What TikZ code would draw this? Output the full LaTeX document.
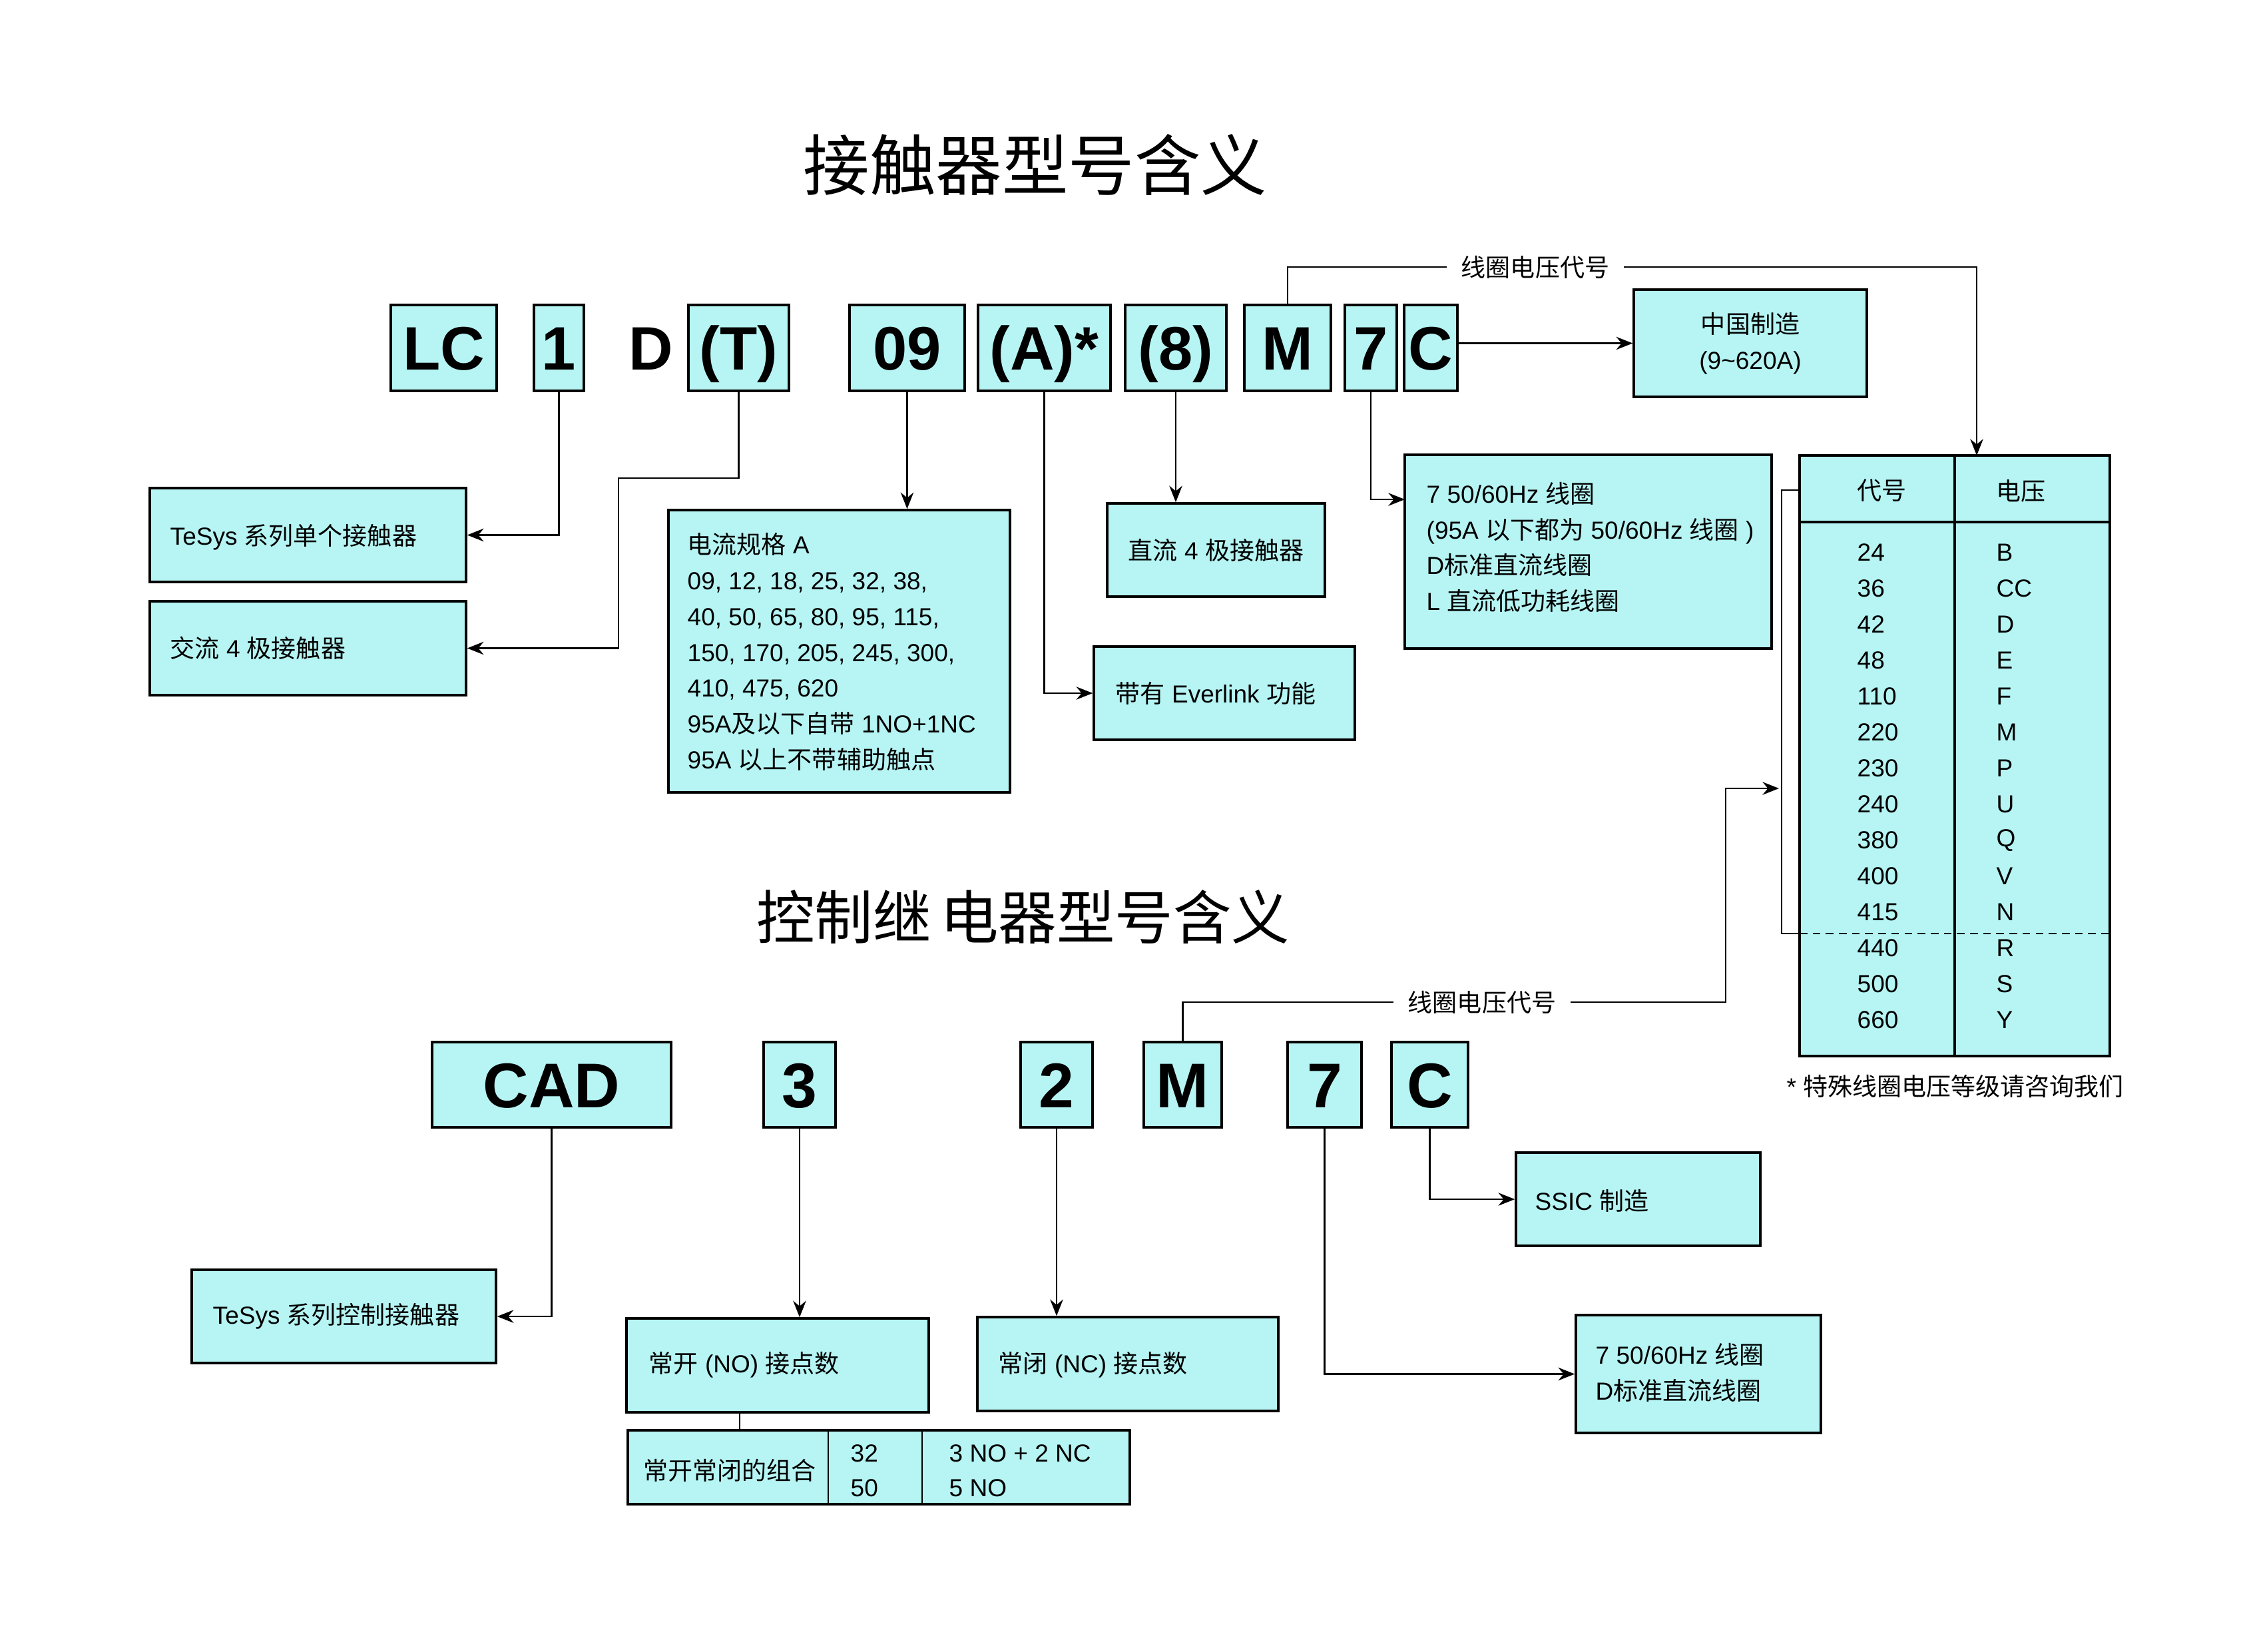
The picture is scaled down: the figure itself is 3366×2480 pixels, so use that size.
\documentclass[tikz,border=0pt]{standalone}
\usepackage{fontspec}
\setmainfont{Liberation Sans}
\newfontfamily\zh{Noto Sans CJK SC}
\usetikzlibrary{arrows.meta}
\definecolor{boxfill}{RGB}{182,245,244}
\newcommand\bxn[7]{\node[#6, minimum width={(#4-#2)*0.01cm}, minimum height={(#5-#3)*0.01cm}] (#1) at ({(#2+#4)/2},{(#3+#5)/2}) {#7};}
\begin{document}
\begin{tikzpicture}[x=0.01cm,y=-0.01cm,
  box/.style={draw=black, line width=1pt, fill=boxfill, inner sep=0pt},
  boxt/.style={box, font=\fontsize{10.53pt}{15.28pt}\selectfont},
  code/.style={box, font=\fontsize{26.2pt}{30pt}\selectfont\bfseries, text height=18.8pt, text depth=0pt},
  lcode/.style={box, font=\fontsize{27pt}{30pt}\selectfont\bfseries, text height=19.4pt, text depth=0pt},
  codetxt/.style={inner sep=0pt, font=\fontsize{26.2pt}{30pt}\selectfont\bfseries, text height=18.8pt, text depth=0pt},
  txt/.style={inner sep=0pt, font=\fontsize{10.53pt}{15.28pt}\selectfont},
  lbl/.style={inner xsep=0.21cm, inner ysep=0pt, font=\fontsize{10.53pt}{15.28pt}\selectfont\zh},
  ttl/.style={inner sep=0pt, font=\fontsize{28.3pt}{32pt}\selectfont\zh},
  ttlb/.style={inner sep=0pt, font=\fontsize{24.9pt}{30pt}\selectfont\zh},
  conn/.style={line width=0.8pt, -{Stealth[length=7pt,width=5.5pt]}},
  plain/.style={line width=0.8pt},
]
\fill[white] (0,0) rectangle (3366,2480);
\useasboundingbox (0,0) rectangle (3366,2480);

% titles
\node[ttl] (title1) at (1555,248) {接触器型号含义};
\node[ttlb] (title2) at (1537,1377) {控制继\hspace{0.15em}电器型号含义};

% top code boxes
\bxn{lc}{587}{458}{746}{587}{code}{LC}
\bxn{one}{802}{458}{877}{587}{code}{1}
\node[codetxt] (dd) at (978,522.5) {D};
\bxn{tt}{1034}{458}{1185}{587}{code}{(T)}
\bxn{nine}{1276}{458}{1449}{587}{code}{09}
\bxn{aa}{1469}{458}{1668}{587}{code}{(A)*}
\bxn{eight}{1690}{458}{1842}{587}{code}{(8)}
\bxn{mm}{1869}{458}{1999}{587}{code}{M}
\bxn{seven}{2020}{458}{2098}{587}{code}{7}
\bxn{cc}{2109}{458}{2189}{587}{code}{C}

% top description boxes
\bxn{b1}{225}{733}{700}{874}{box}{}
\node[txt,anchor=west] (t1) at (255,807) {TeSys {\zh 系列单个接触器}};
\bxn{b2}{225}{903}{700}{1044}{box}{}
\node[txt,anchor=west] (t2) at (255,973) {{\zh 交流} 4 {\zh 极接触器}};
\bxn{b3}{1004}{766}{1517}{1190}{box}{}
\node[txt,anchor=west,align=left] (t3) at (1032,979) {{\zh 电流规格} A\\09, 12, 18, 25, 32, 38,\\40, 50, 65, 80, 95, 115,\\150, 170, 205, 245, 300,\\410, 475, 620\\95A{\zh 及以下自带} 1NO+1NC\\95A {\zh 以上不带辅助触点}};
\bxn{b4}{1663}{756}{1990}{896}{boxt}{{\zh 直流} 4 {\zh 极接触器}}
\bxn{b5}{1643}{971}{2035}{1111}{box}{}
\node[txt,anchor=west] (t5) at (1675,1041) {{\zh 带有} Everlink {\zh 功能}};
\bxn{b6}{2454}{435}{2804}{596}{boxt,align=center}{{\zh 中国制造}\\(9\string~620A)}
\bxn{b7}{2110}{683}{2661}{974}{box}{}
\node[txt,anchor=west,align=left] (t7) at (2142,822) {7 50/60Hz {\zh 线圈}\\(95A {\zh 以下都为} 50/60Hz {\zh 线圈} )\\D{\zh 标准直流线圈}\\L {\zh 直流低功耗线圈}};

% voltage table
\bxn{tab}{2703}{684}{3169}{1586}{box}{}
\draw[line width=1pt] (2703,784) -- (3169,784);
\draw[line width=1pt] (2936,684) -- (2936,1586);
\draw[line width=0.8pt, dash pattern=on 3.3pt off 2.3pt] (2703,1402) -- (3169,1402);
\node[txt,anchor=west,font=\fontsize{10.53pt}{15.28pt}\selectfont\zh] (th1) at (2789,737) {代号};
\node[txt,anchor=west,font=\fontsize{10.53pt}{15.28pt}\selectfont\zh] (th2) at (2998,737) {电压};
\foreach \n/\l [count=\i from 0] in {24/B,36/CC,42/D,48/E,110/F,220/M,230/P,240/U,380/Q,400/V,415/N,440/R,500/S,660/Y} {
  \node[txt,anchor=west] (rn\i) at (2789,{829.5+54.04*\i}) {\n};
  \node[txt,anchor=west] (rl\i) at (2998,{829.5+54.04*\i}) {\l};
}
\draw[plain] (2703,736) -- (2676,736) -- (2676,1402) -- (2703,1402);
\node[txt,anchor=west] (foot) at (2683,1631) {* {\zh 特殊线圈电压等级请咨询我们}};

% top connectors
\node[lbl] (lblA) at (2306,401) {线圈电压代号};
\coordinate (tabin) at (2969,684);
\coordinate (c7) at (2110,750);
\coordinate (tjog) at (929,718);
\draw[conn] (one.south) |- (b1.east);
\draw[conn] (tt.south) |- (tjog) |- (b2.east);
\draw[conn] (nine.south) -- (nine.south |- b3.north);
\draw[conn] (aa.south) |- (b5.west);
\draw[conn] (eight.south) -- (eight.south |- b4.north);
\draw[plain] (mm.north) |- (lblA.west);
\draw[conn] (lblA.east) -| (tabin);
\draw[conn] (seven.south) |- (c7);
\draw[conn] (cc.east |- b6.west) -- (b6.west);

% lower code boxes
\bxn{cad}{649}{1565}{1008}{1693}{lcode}{CAD}
\bxn{three}{1147}{1565}{1255}{1693}{lcode}{3}
\bxn{two}{1533}{1565}{1641}{1693}{lcode}{2}
\bxn{mm2}{1718}{1565}{1835}{1693}{lcode}{M}
\bxn{seven2}{1934}{1565}{2045}{1693}{lcode}{7}
\bxn{c2}{2090}{1565}{2205}{1693}{lcode}{C}

% lower description boxes
\bxn{b8}{288}{1907}{745}{2047}{box}{}
\node[txt,anchor=west] (t8) at (319,1977) {TeSys {\zh 系列控制接触器}};
\bxn{ssic}{2277}{1731}{2644}{1871}{box}{}
\node[txt,anchor=west] (tssic) at (2305,1803) {SSIC {\zh 制造}};
\bxn{no}{941}{1980}{1395}{2121}{box}{}
\node[txt,anchor=west] (tno) at (974,2050) {{\zh 常开} (NO) {\zh 接点数}};
\bxn{nc}{1468}{1978}{1920}{2119}{box}{}
\node[txt,anchor=west] (tnc) at (1499,2050) {{\zh 常闭} (NC) {\zh 接点数}};
\bxn{b9}{2367}{1975}{2735}{2152}{box}{}
\node[txt,anchor=west,align=left] (t9) at (2396,2061) {7 50/60Hz {\zh 线圈}\\D{\zh 标准直流线圈}};
\bxn{combo}{943}{2148}{1697}{2259}{box}{}
\draw[line width=0.8pt] (1244,2148) -- (1244,2259);
\draw[line width=0.8pt] (1385,2148) -- (1385,2259);
\node[txt,anchor=west] (cb1) at (966,2208) {\zh 常开常闭的组合};
\node[txt,anchor=west] (cb2) at (1277,2183) {32};
\node[txt,anchor=west] (cb3) at (1277,2235) {50};
\node[txt,anchor=west] (cb4) at (1425,2183) {3 NO + 2 NC};
\node[txt,anchor=west] (cb5) at (1425,2235) {5 NO};

% lower connectors
\node[lbl] (lblB) at (2226,1505) {线圈电压代号};
\coordinate (turn) at (2592,1184);
\coordinate (brk) at (2672,1184);
\coordinate (nojoin) at (1111,2121);
\draw[plain] (mm2.north) |- (lblB.west);
\draw[conn] (lblB.east) -| (turn) -- (brk);
\draw[conn] (cad.south) |- (b8.east);
\draw[conn] (three.south) -- (three.south |- no.north);
\draw[conn] (two.south) -- (two.south |- nc.north);
\draw[conn] (seven2.south) |- (b9.west);
\draw[conn] (c2.south) |- (ssic.west);
\draw[plain] (nojoin) -- (nojoin |- combo.north);
\end{tikzpicture}
\end{document}
